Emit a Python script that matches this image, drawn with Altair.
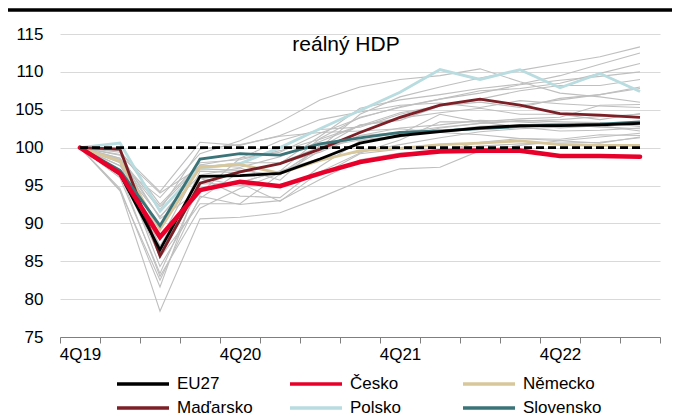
import altair as alt
import pandas as pd

quarters = ["4Q19", "1Q20", "2Q20", "3Q20", "4Q20", "1Q21", "2Q21", "3Q21",
            "4Q21", "1Q22", "2Q22", "3Q22", "4Q22", "1Q23", "2Q23"]
shown_labels = ["4Q19", "4Q20", "4Q21", "4Q22"]
title_text = "reálný HDP"
baseline_value = 100

# highlighted series
highlight_names = ["EU27", "Česko", "Německo", "Maďarsko", "Polsko", "Slovensko"]
highlight_colors = ["#000000", "#E8002A", "#D8C79B", "#7D1F26", "#B8DCDF", "#3B7478"]

eu27 = [100, 96.5, 86.5, 96.2, 96.3, 96.6, 98.5, 100.6, 101.6, 102.1, 102.6, 102.9, 102.9, 103.0, 103.2]
cesko = [100, 96.6, 88.2, 94.4, 95.5, 94.9, 96.6, 98.1, 99.0, 99.5, 99.6, 99.6, 98.9, 98.9, 98.8]
nemecko = [100, 98.2, 89.2, 97.4, 97.8, 96.6, 98.3, 99.6, 99.9, 100.4, 100.6, 100.9, 100.4, 100.3, 100.3]
madarsko = [100, 99.8, 85.7, 95.3, 96.8, 97.9, 99.8, 102.0, 104.0, 105.6, 106.4, 105.6, 104.5, 104.3, 104.0]
polsko = [100, 100.6, 91.6, 97.3, 97.9, 100.0, 102.5, 104.9, 107.3, 110.3, 109.0, 110.3, 107.9, 109.8, 107.4]
slovensko = [100, 97.0, 89.7, 98.5, 99.2, 99.0, 100.5, 101.3, 102.0, 102.2, 102.5, 102.8, 103.0, 103.1, 103.4]
highlight_values = [eu27, cesko, nemecko, madarsko, polsko, slovensko]
draw_order = ["Polsko", "Německo", "Maďarsko", "Slovensko", "EU27"]
thick_series = "Česko"

# other EU member states (grey)
gray_series = {
    "Španělsko": [100, 94.4, 78.4, 90.6, 90.8, 91.4, 93.4, 95.6, 97.2, 97.4, 99.6, 100.3, 100.9, 101.4, 101.9],
    "Itálie": [100, 94.3, 82.5, 93.6, 92.5, 93.0, 95.8, 98.4, 99.3, 99.5, 100.7, 101.2, 101.1, 101.7, 101.6],
    "Francie": [100, 94.6, 81.6, 96.0, 95.0, 95.2, 96.3, 99.2, 99.8, 99.7, 100.2, 100.5, 100.6, 100.7, 101.3],
    "Portugalsko": [100, 96.0, 83.4, 95.2, 95.3, 92.9, 96.8, 99.3, 101.0, 103.4, 103.4, 103.8, 104.0, 105.6, 105.7],
    "Řecko": [100, 98.4, 85.5, 92.6, 92.6, 96.5, 100.0, 103.0, 103.6, 105.5, 106.0, 105.3, 106.5, 107.0, 108.0],
    "Chorvatsko": [100, 98.0, 84.3, 93.3, 96.8, 97.9, 101.5, 105.2, 106.3, 107.0, 107.8, 108.4, 109.5, 111.0, 112.5],
    "Rakousko": [100, 97.0, 87.0, 96.0, 93.6, 93.4, 97.5, 100.9, 101.4, 102.6, 103.2, 103.6, 103.4, 103.3, 102.8],
    "Belgie": [100, 96.5, 85.7, 96.9, 96.7, 97.9, 99.4, 101.6, 102.0, 102.7, 103.2, 103.5, 103.7, 104.1, 104.4],
    "Nizozemsko": [100, 98.4, 90.8, 97.2, 97.0, 96.4, 99.6, 101.6, 102.6, 103.0, 103.6, 103.4, 103.1, 102.7, 102.5],
    "Malta": [100, 96.6, 83.0, 92.0, 94.6, 96.6, 100.0, 104.4, 106.7, 108.0, 109.2, 110.2, 111.1, 112.0, 113.3],
    "Kypr": [100, 98.6, 87.0, 94.2, 95.4, 96.9, 101.2, 104.0, 105.3, 106.4, 107.5, 107.8, 108.5, 109.8, 111.1],
    "Lucembursko": [100, 98.4, 91.8, 99.8, 100.4, 101.5, 102.0, 102.2, 102.5, 102.0, 101.7, 101.2, 100.9, 100.6, 101.4],
    "Slovinsko": [100, 96.2, 87.8, 97.7, 97.4, 98.8, 100.8, 102.9, 104.6, 105.5, 106.3, 105.6, 106.3, 107.0, 107.8],
    "Litva": [100, 99.4, 94.2, 100.7, 100.3, 101.6, 103.7, 104.7, 105.6, 105.9, 105.3, 106.2, 105.8, 105.5, 105.3],
    "Lotyšsko": [100, 97.6, 90.9, 96.4, 97.3, 95.7, 100.3, 101.3, 101.8, 104.4, 103.4, 102.7, 102.2, 102.3, 102.6],
    "Estonsko": [100, 97.6, 93.4, 99.2, 100.9, 103.4, 106.3, 108.0, 109.0, 109.5, 110.4, 108.7, 107.2, 106.7, 106.0],
    "Finsko": [100, 99.0, 94.0, 97.4, 98.0, 98.0, 100.1, 101.0, 101.6, 102.2, 102.8, 103.0, 102.6, 102.9, 102.2],
    "Švédsko": [100, 99.6, 92.5, 98.0, 98.4, 99.6, 101.1, 102.9, 103.9, 104.6, 105.2, 104.4, 104.4, 103.7, 104.5],
    "Dánsko": [100, 98.6, 92.2, 97.7, 98.6, 99.4, 101.9, 103.9, 105.4, 106.4, 107.2, 108.3, 108.9, 109.4, 110.0],
    "Bulharsko": [100, 99.1, 90.6, 94.4, 95.4, 96.9, 98.6, 99.4, 100.4, 101.3, 102.1, 102.5, 102.7, 103.0, 103.3],
    "Rumunsko": [100, 99.7, 88.3, 94.0, 98.6, 100.9, 102.4, 102.7, 104.4, 105.5, 106.4, 107.5, 108.2, 108.2, 109.0],
}

FONT = "Liberation Sans"

gray_rows = [{"q": q, "country": c, "v": v}
             for c, vals in gray_series.items() for q, v in zip(quarters, vals)]
hl_map = dict(zip(highlight_names, highlight_values))
hl_rows = [{"q": q, "country": c, "v": v}
           for c in draw_order for q, v in zip(quarters, hl_map[c])]
thick_rows = [{"q": q, "country": thick_series, "v": v}
              for q, v in zip(quarters, hl_map[thick_series])]
base_rows = [{"q": q, "v": baseline_value} for q in quarters]

label_expr = "indexof([" + ",".join("'%s'" % s for s in shown_labels) + \
    "], datum.value) >= 0 ? datum.value : ''"

x_enc = alt.X("q:O", sort=quarters,
              scale=alt.Scale(type="band", paddingInner=0, paddingOuter=0),
              axis=alt.Axis(title=None, tickBand="extent", labelExpr=label_expr,
                            labelAngle=0, labelOverlap=False, labelFont=FONT,
                            labelFontSize=17, labelColor="#000000", labelPadding=3,
                            tickSize=6, tickColor="#7F7F7F", domainColor="#7F7F7F",
                            grid=False))
y_enc = alt.Y("v:Q", scale=alt.Scale(domain=[75, 115], nice=False, zero=False),
              axis=alt.Axis(title=None, values=list(range(75, 116, 5)), domain=False,
                            ticks=False, labelPadding=17, labelFont=FONT,
                            labelFontSize=17, labelColor="#000000",
                            gridColor="#D9D9D9", gridWidth=1.2))

color_enc = alt.Color(
    "country:N",
    scale=alt.Scale(domain=highlight_names, range=highlight_colors),
    legend=alt.Legend(title=None, orient="none", legendX=55, legendY=340,
                      direction="horizontal", columns=3,
                      symbolType="stroke", symbolSize=2704,
                      symbolStrokeWidth=3.5, labelFont=FONT,
                      labelFontSize=17, labelColor="#000000",
                      gridAlign="all", columnPadding=32, rowPadding=4,
                      clipHeight=20, labelOffset=6, padding=0))

gray = alt.Chart(pd.DataFrame(gray_rows)).mark_line(
    color="#BFBFBF", strokeWidth=1.1).encode(x=x_enc, y=y_enc, detail="country:N")

hl = alt.Chart(pd.DataFrame(hl_rows)).mark_line(strokeWidth=2.8).encode(
    x=x_enc, y=y_enc, color=color_enc)

thick = alt.Chart(pd.DataFrame(thick_rows)).mark_line(
    strokeWidth=4.6, strokeCap="round").encode(x=x_enc, y=y_enc, color=color_enc)

base = alt.Chart(pd.DataFrame(base_rows)).mark_line(
    color="#000000", strokeWidth=2.6, strokeDash=[8, 4]).encode(x=x_enc, y=y_enc)

title = alt.Chart(pd.DataFrame({"t": [title_text]})).mark_text(
    font=FONT, fontSize=21, align="center", baseline="alphabetic", color="#000000"
).encode(text="t:N", x=alt.value(286), y=alt.value(17))

top_bar = alt.Chart(pd.DataFrame({"a": [0]})).mark_rule(
    color="#000000", strokeWidth=3.5).encode(x=alt.value(-52), x2=alt.value(612),
                                             y=alt.value(-24))

chart = alt.layer(gray, hl, thick, base, title, top_bar).properties(
    width=600, height=303,
    autosize=alt.AutoSizeParams(type="none"),
    padding={"left": 52, "top": 26, "right": 20, "bottom": 80},
).configure_view(stroke=None)

chart.save("out.html", embed_options={"renderer": "svg", "actions": False})
